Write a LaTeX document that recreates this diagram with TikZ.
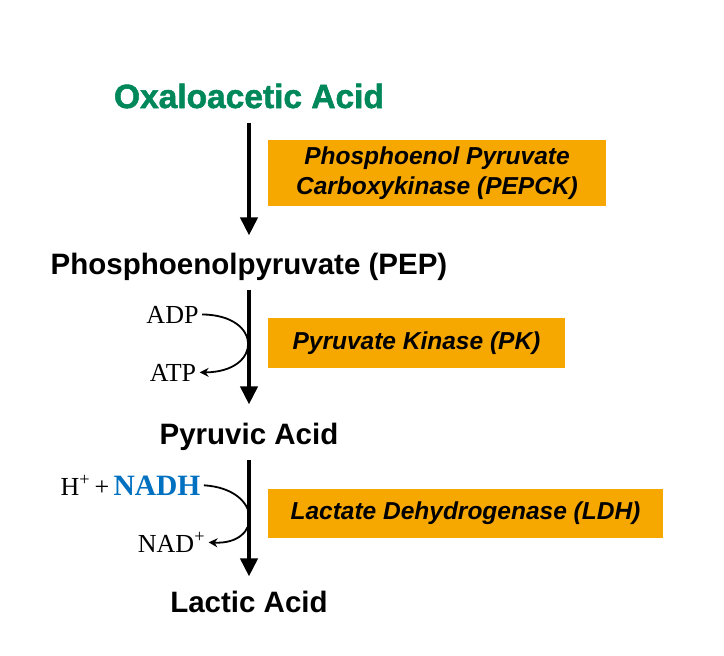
\documentclass[tikz,border=0pt]{standalone}
\usepackage{fontspec}
\setmainfont{Liberation Sans}
\newfontfamily\timesfont{Liberation Serif}
\newfontfamily\heavyfont[FakeBold=1.6]{Liberation Sans Bold}
\usetikzlibrary{arrows.meta}

\definecolor{oaagreen}{RGB}{0,135,90}
\definecolor{enzorange}{RGB}{246,168,0}
\definecolor{nadhblue}{RGB}{0,112,192}

\tikzset{
    metabolite/.style={inner sep=0pt, anchor=base, font=\fontsize{29.5}{34}\selectfont\bfseries},
    enzyme/.style={fill=enzorange, align=center, inner sep=0pt, font=\fontsize{24.5}{30}\selectfont\bfseries\itshape},
    cofactor/.style={anchor=base, font=\timesfont\fontsize{26}{30}\selectfont},
    mainarrow/.style={line width=4pt, -{Triangle[width=17pt,length=18pt]}},
    sidearrow/.style={line width=1.8pt, -{Stealth[width=9pt,length=9pt]}}
}

\begin{document}
\begin{tikzpicture}[x=1pt, y=-1pt]
    \useasboundingbox (0,0) rectangle (724,656);

    % Métabolites
    \node[metabolite, text=oaagreen, font=\fontsize{33.5}{38}\selectfont\heavyfont] (oaa) at (249,108) {Oxaloacetic Acid};
    \node[metabolite] (pep) at (249,274) {Phosphoenolpyruvate (PEP)};
    \node[metabolite] (pyr) at (249,444) {Pyruvic Acid};
    \node[metabolite] (lac) at (249,612) {Lactic Acid};

    % Enzymes
    \node[enzyme, minimum width=338, minimum height=66] (pepck) at (437,173) {Phosphoenol Pyruvate\\Carboxykinase (PEPCK)};
    \node[enzyme, minimum width=297, minimum height=50] (pk) at (416.5,343) {Pyruvate Kinase (PK)};
    \node[enzyme, minimum width=395, minimum height=49] (ldh) at (465.5,513.5) {Lactate Dehydrogenase (LDH)};

    % Cofacteurs
    \node[cofactor] (adp) at (172.5,323) {ADP};
    \node[cofactor] (atp) at (173,381) {ATP};
    \node[cofactor] (nadh) at (130.5,495) {H\textsuperscript{+}\,+\,{\fontsize{29.5}{30}\selectfont\bfseries\color{nadhblue}NADH}};
    \node[cofactor] (nad) at (171.5,552) {NAD\textsuperscript{+}};

    % Flèches
    \draw[mainarrow, shorten <=14pt, shorten >=17pt] (oaa) -- (pep);
    \draw[mainarrow, shorten <=10pt, shorten >=18pt] (pep) -- (pyr);
    \draw[mainarrow, shorten <=10pt, shorten >=14pt] (pyr) -- (lac);

    \draw[sidearrow] (adp.east) .. controls (263,315) and (263,372) .. (atp.east);
    \draw[sidearrow] (nadh.east) .. controls (263,489) and (263,545) .. (nad.east);

\end{tikzpicture}
\end{document}
